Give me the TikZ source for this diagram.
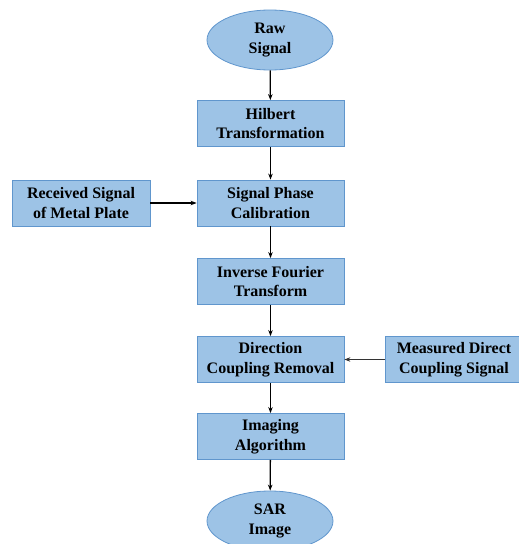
\documentclass[tikz,border=0pt]{standalone}
\usepackage{fontspec}
\setmainfont{Liberation Serif}
\usetikzlibrary{shapes.geometric,arrows.meta}
\definecolor{boxfill}{RGB}{157,195,230}
\definecolor{boxline}{RGB}{96,150,205}
\tikzset{
  flowbox/.style={draw=boxline, fill=boxfill, line width=0.8pt, rectangle,
    minimum width=147pt, minimum height=46pt, inner sep=0pt,
    align=center, font=\fontsize{16}{19.5}\selectfont\bfseries},
  sidebox/.style={flowbox, minimum width=138pt},
  terminal/.style={draw=boxline, fill=boxfill, line width=0.8pt, ellipse,
    minimum width=126pt, minimum height=60pt, inner sep=0pt,
    align=center, font=\fontsize{16}{19.5}\selectfont\bfseries},
  flow/.style={draw=black, line width=1.3pt, -{Stealth[length=6pt,width=4.5pt]}},
  sideflow/.style={draw=black!80, line width=0.9pt, -{Stealth[length=6pt,width=4.5pt]}}
}
\begin{document}
\begin{tikzpicture}[x=1pt,y=1pt]
  \useasboundingbox (0,0) rectangle (519,-544);
  \clip (0,0) rectangle (519,-544);
  % main column
  \node[terminal] (raw) at (270,-40) {Raw\\Signal};
  \node[flowbox] (hilbert) at (270.5,-123.5) {Hilbert\\Transformation};
  \node[flowbox] (phase) at (270.5,-203) {Signal Phase\\Calibration};
  \node[flowbox] (ifft) at (270.5,-281.5) {Inverse Fourier\\Transform};
  \node[flowbox] (removal) at (270.5,-359.5) {Direction\\Coupling Removal};
  \node[flowbox] (imaging) at (270.5,-436.5) {Imaging\\Algorithm};
  \node[terminal] (sar) at (270,-521) {SAR\\Image};
  % side inputs
  \node[sidebox] (metal) at (81,-203) {Received Signal\\of Metal Plate};
  \node[sidebox] (direct) at (454,-359.5) {Measured Direct\\Coupling Signal};
  % connectors
  \draw[flow] (raw) -- (hilbert);
  \draw[flow] (hilbert) -- (phase);
  \draw[flow] (phase) -- (ifft);
  \draw[flow] (ifft) -- (removal);
  \draw[flow] (removal) -- (imaging);
  \draw[flow] (imaging) -- (sar);
  \draw[flow] (metal) -- (phase);
  \draw[sideflow] (direct) -- (removal);
\end{tikzpicture}
\end{document}
